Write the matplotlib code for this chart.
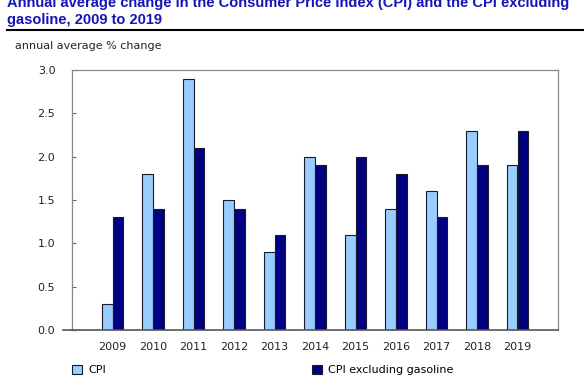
import matplotlib
matplotlib.use("Agg")
import matplotlib.pyplot as plt
import numpy as np

years = ["2009", "2010", "2011", "2012", "2013", "2014", "2015", "2016", "2017", "2018", "2019"]
cpi = [0.3, 1.8, 2.9, 1.5, 0.9, 2.0, 1.1, 1.4, 1.6, 2.3, 1.9]
cpi_ex_gas = [1.3, 1.4, 2.1, 1.4, 1.1, 1.9, 2.0, 1.8, 1.3, 1.9, 2.3]
y_ticks = [0.0, 0.5, 1.0, 1.5, 2.0, 2.5, 3.0]

title = ("Annual average change in the Consumer Price Index (CPI) and the CPI excluding\n"
         "gasoline, 2009 to 2019")
unit_label = "annual average % change"

LIGHT = "#99ccff"
DARK = "#000080"

plt.rcParams["font.family"] = ["DejaVu Sans"]
fig = plt.figure(figsize=(5.84, 3.80), dpi=100)
ax = fig.add_axes([72 / 584, 1 - 330 / 380, (558 - 72) / 584, (330 - 70) / 380])

x = np.arange(len(years))
wd = 0.26
ax.bar(x - wd / 2, cpi, wd, color=LIGHT, edgecolor="#1a1a2e", linewidth=0.8, label="CPI")
ax.bar(x + wd / 2, cpi_ex_gas, wd, color=DARK, edgecolor="#1a1a2e", linewidth=0.8,
       label="CPI excluding gasoline")

ax.set_xlim(-1, len(years))
ax.set_ylim(0, 3.0)
ax.set_yticks(y_ticks)
ax.set_yticklabels([f"{v:.1f}" for v in y_ticks], fontsize=8, color="#222222")
ax.set_xticks(x)
ax.set_xticklabels(years, fontsize=8, color="#222222")
ax.tick_params(axis="x", length=0, pad=9)
ax.tick_params(axis="y", direction="in", length=3, pad=12, color="#666666")
for s in ("top", "right", "left"):
    ax.spines[s].set_color("#888888")
    ax.spines[s].set_linewidth(0.9)
ax.spines["bottom"].set_color("#555555")
ax.spines["bottom"].set_linewidth(1.2)
# x-axis line pokes a little past the y-axis
ax.plot([-0.018, 0], [0, 0], transform=ax.transAxes, color="#555555", lw=1.2, clip_on=False)

fig.text(7 / 584, 1 + 4 / 380, title, ha="left", va="top", fontsize=10.5, fontweight="bold",
         color="#1414b8", family=["Liberation Sans", "DejaVu Sans"], linespacing=1.25)
fig.add_artist(plt.Line2D([7 / 584, 1], [1 - 30 / 380] * 2, color="black", lw=1.5))
fig.text(15 / 584, 1 - 46 / 380, unit_label, ha="left", va="center", fontsize=8, color="#222222")

fig.legend(loc="center left", bbox_to_anchor=(68 / 584, 1 - 370 / 380), ncol=2, frameon=False,
           fontsize=8, handlelength=0.9, handleheight=0.9, handletextpad=0.5,
           columnspacing=18.6, borderaxespad=0)

fig.savefig("out.png", dpi=100)
